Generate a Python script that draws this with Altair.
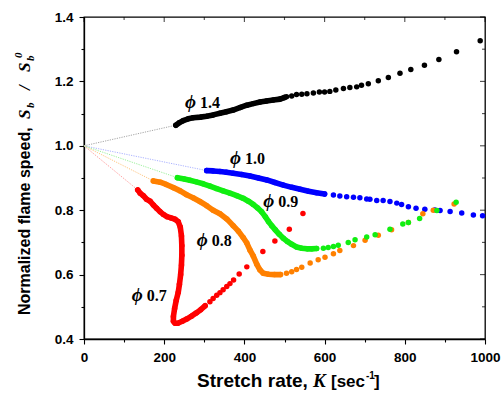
import altair as alt
import pandas as pd

# ---------------- data ----------------
series_names = ["1.4", "1.0", "0.7", "0.8", "0.9"]
series_colors = ["#000000", "#0000ff", "#ff0000", "#ff8000", "#11ee11"]
guide_colors = ["#9a9a9a", "#a0a8ff", "#ff9090", "#ffbe70", "#90ee90"]

# phi = 1.4
k14_dense = [229, 238, 247, 260, 272, 290, 306, 322, 339, 355, 372, 390, 406, 422, 439, 455, 472, 489, 500]
s14_dense = [1.064, 1.072, 1.078, 1.084, 1.087, 1.089, 1.092, 1.096, 1.101, 1.106, 1.111, 1.119, 1.126, 1.131,
             1.136, 1.139, 1.142, 1.145, 1.150]
k14_sparse = [505, 518, 530, 543, 556, 572, 587, 600, 613, 628, 647, 663, 680, 692, 709, 734, 759, 788, 815, 849,
              885, 929, 988]
s14_sparse = [1.152, 1.155, 1.159, 1.160, 1.162, 1.164, 1.167, 1.167, 1.169, 1.173, 1.178, 1.181, 1.183, 1.188,
              1.193, 1.202, 1.212, 1.225, 1.237, 1.250, 1.268, 1.292, 1.326]

# phi = 1.0
k10_dense = [306, 322, 339, 355, 372, 393, 414, 435, 456, 476, 497, 518, 539, 560, 580, 600]
s10_dense = [0.923, 0.922, 0.920, 0.918, 0.915, 0.911, 0.906, 0.900, 0.894, 0.886, 0.878, 0.871, 0.865, 0.859,
             0.854, 0.850]
k10_sparse = [622, 638, 655, 672, 688, 705, 713, 730, 746, 763, 780, 792, 809, 828, 850, 875, 888, 913, 942, 971, 994]
s10_sparse = [0.847, 0.844, 0.842, 0.840, 0.839, 0.835, 0.834, 0.830, 0.830, 0.827, 0.822, 0.818, 0.811, 0.806,
              0.803, 0.801, 0.799, 0.796, 0.791, 0.785, 0.783]

# phi = 0.7
k07_dense = [134, 140, 148, 156, 165, 173, 181, 190, 198, 207, 217, 227, 235, 240, 243, 244, 244, 243, 241, 238,
             235, 230, 226, 223, 223, 227, 234, 245, 256, 268, 280, 291, 302]
s07_dense = [0.863, 0.853, 0.845, 0.834, 0.828, 0.816, 0.806, 0.795, 0.787, 0.780, 0.776, 0.772, 0.764, 0.748,
             0.720, 0.690, 0.660, 0.630, 0.600, 0.570, 0.545, 0.520, 0.495, 0.470, 0.455, 0.449, 0.449, 0.455,
             0.462, 0.471, 0.481, 0.491, 0.503]
k07_sparse = [314, 322, 331, 339, 347, 356, 364, 373, 387, 406, 446, 476, 512, 546]
s07_sparse = [0.516, 0.526, 0.536, 0.544, 0.553, 0.563, 0.572, 0.583, 0.602, 0.624, 0.672, 0.704, 0.741, 0.790]

# phi = 0.8
k08_dense = [173, 190, 205, 223, 240, 256, 273, 289, 306, 322, 339, 356, 372, 385, 397, 406, 414, 422, 431, 439,
             447, 460, 475, 490]
s08_dense = [0.891, 0.887, 0.880, 0.870, 0.860, 0.848, 0.838, 0.827, 0.814, 0.800, 0.789, 0.773, 0.752, 0.735,
             0.715, 0.698, 0.676, 0.658, 0.632, 0.614, 0.604, 0.601, 0.600, 0.600]
k08_sparse = [505, 518, 530, 543, 564, 584, 601, 622, 638, 672, 701, 734, 767, 809, 845, 871, 923]
s08_sparse = [0.604, 0.609, 0.616, 0.623, 0.636, 0.646, 0.654, 0.665, 0.675, 0.690, 0.707, 0.722, 0.739, 0.762,
              0.789, 0.800, 0.819]

# phi = 0.9
k09_dense = [233, 250, 264, 280, 297, 314, 331, 347, 364, 381, 397, 410, 422, 433, 443, 452, 460, 468, 477, 487,
             497, 507, 518, 530, 543, 556, 568, 580]
s09_dense = [0.901, 0.897, 0.893, 0.888, 0.882, 0.875, 0.867, 0.860, 0.853, 0.845, 0.837, 0.828, 0.818, 0.807,
             0.795, 0.780, 0.765, 0.752, 0.739, 0.725, 0.713, 0.703, 0.694, 0.686, 0.682, 0.680, 0.680, 0.681]
k09_sparse = [597, 609, 622, 634, 659, 676, 705, 726, 763, 795, 809, 837, 880, 928]
s09_sparse = [0.682, 0.684, 0.687, 0.691, 0.700, 0.708, 0.717, 0.724, 0.741, 0.757, 0.762, 0.774, 0.799, 0.825]

# phi labels
label_text = ["1.4", "1.0", "0.9", "0.8", "0.7"]
label_k = [252, 364, 447, 281, 119]
label_s = [1.137, 0.961, 0.829, 0.708, 0.537]

x_major = [0, 200, 400, 600, 800, 1000]
x_minor = [100, 300, 500, 700, 900]
y_major = [0.4, 0.6, 0.8, 1.0, 1.2, 1.4]
y_minor = [0.5, 0.7, 0.9, 1.1, 1.3]

# ---------------- tables ----------------
dense = [(k14_dense, s14_dense), (k10_dense, s10_dense), (k07_dense, s07_dense), (k08_dense, s08_dense),
         (k09_dense, s09_dense)]
sparse = [(k14_sparse, s14_sparse), (k10_sparse, s10_sparse), (k07_sparse, s07_sparse), (k08_sparse, s08_sparse),
          (k09_sparse, s09_sparse)]

dense_rows, point_rows, guide_rows = [], [], []
for n, (name, col, gcol) in enumerate(zip(series_names, series_colors, guide_colors)):
    kd, sd = dense[n]
    ks, ss = sparse[n]
    for i, (k, s) in enumerate(zip(kd, sd)):
        dense_rows.append({"k": k, "s": s, "series": name, "col": col, "i": i})
        point_rows.append({"k": k, "s": s, "series": name, "col": col})
    for k, s in zip(ks, ss):
        point_rows.append({"k": k, "s": s, "series": name, "col": col})
    guide_rows.append({"k": 0, "s": 1.0, "series": name, "col": gcol, "i": 0})
    guide_rows.append({"k": kd[0], "s": sd[0], "series": name, "col": gcol, "i": 1})

dense_df = pd.DataFrame(dense_rows)
point_df = pd.DataFrame(point_rows)
guide_df = pd.DataFrame(guide_rows)
label_df = pd.DataFrame({"k": label_k, "s": label_s, "t": label_text, "phi": ["\u03d5"] * len(label_text)})

xs = alt.Scale(domain=[0, 1000], nice=False, zero=False)
ys = alt.Scale(domain=[0.4, 1.4], nice=False, zero=False)

label_style = dict(labelColor="#000000", labelFont="Liberation Sans", labelFontWeight=700, labelFontSize=13.5)

x_axis = alt.Axis(values=sorted(x_major + x_minor),
                  labelExpr="datum.value % 200 === 0 ? format(datum.value, 'd') : ''",
                  tickSize={"condition": {"test": "datum.value % 200 === 0", "value": 5}, "value": 3},
                  labelPadding=6, grid=False, title=None, labelFlush=False, **label_style)
y_axis = alt.Axis(values=sorted(y_major + y_minor),
                  labelExpr="round(datum.value*10) % 2 === 0 ? format(datum.value, '.1f') : ''",
                  tickSize={"condition": {"test": "round(datum.value*10) % 2 === 0", "value": 5}, "value": 3},
                  labelPadding=6, grid=False, title=None, labelFlush=False, **label_style)


def X(field="k"):
    return alt.X(f"{field}:Q", scale=xs, axis=x_axis)


def Y(field="s"):
    return alt.Y(f"{field}:Q", scale=ys, axis=y_axis)


guide = alt.Chart(guide_df).mark_line(strokeWidth=0.9, strokeDash=[1.2, 1.2]).encode(
    x=X(), y=Y(), color=alt.Color("col:N", scale=None), detail="series:N", order="i:Q")

bands = alt.Chart(dense_df).mark_line(strokeWidth=5.6, strokeCap="round", strokeJoin="round").encode(
    x=X(), y=Y(), color=alt.Color("col:N", scale=None), detail="series:N", order="i:Q")

points = alt.Chart(point_df).mark_circle(size=30, opacity=1).encode(
    x=X(), y=Y(), color=alt.Color("col:N", scale=None))

phi_marks = alt.Chart(label_df).mark_text(font="Liberation Serif", fontStyle="italic", fontWeight="bold",
                                          fontSize=19, align="left", baseline="middle", color="black").encode(
    x=X(), y=Y(), text="phi:N")
num_marks = alt.Chart(label_df).mark_text(font="Liberation Serif", fontWeight="bold", fontSize=16, align="left",
                                          baseline="middle", dx=15, dy=1, color="black").encode(
    x=X(), y=Y(), text="t:N")

# inward ticks on the top and right frame edges (major 5 px, minor 3 px)
top_major = alt.Chart(pd.DataFrame({"k": x_major})).mark_tick(size=5, thickness=1.1, color="black").encode(
    x=X(), y=alt.value(2.5))
top_minor = alt.Chart(pd.DataFrame({"k": x_minor})).mark_tick(size=3, thickness=1.1, color="black").encode(
    x=X(), y=alt.value(1.5))
right_major = alt.Chart(pd.DataFrame({"s": y_major})).mark_tick(size=5, thickness=1.1, color="black").encode(
    y=Y(), x=alt.value(398.5))
right_minor = alt.Chart(pd.DataFrame({"s": y_minor})).mark_tick(size=3, thickness=1.1, color="black").encode(
    y=Y(), x=alt.value(399.5))

one = pd.DataFrame({"a": [0]})


def txt(text, x, y, size, font="Liberation Sans", style="normal", angle=0):
    return alt.Chart(one).mark_text(text=text, font=font, fontStyle=style, fontWeight="bold", fontSize=size,
                                    align="left", baseline="alphabetic", angle=angle, color="black").encode(
        x=alt.value(x), y=alt.value(y))


SERIF = "Liberation Serif"
titles = [
    # x title
    txt("Stretch rate,", 113, 370, 19),
    txt("K", 229, 370, 19, SERIF, "italic"),
    txt("[sec", 247, 370, 17),
    txt("-1", 282, 362, 10),
    txt("]", 290, 370, 17),
    # y title (rotated, reading upwards)
    txt("Normalized flame speed,", -54, 298, 16, angle=270),
    txt("S", -54, 102, 17, SERIF, "italic", 270),
    txt("b", -50, 91, 11, SERIF, "italic", 270),
    txt("/", -54, 73, 17, SERIF, "italic", 270),
    txt("S", -54, 55, 17, SERIF, "italic", 270),
    txt("b", -50, 44, 11, SERIF, "italic", 270),
    txt("0", -62, 41, 11, SERIF, "italic", 270),
]

chart = alt.layer(guide, bands, points, phi_marks, num_marks, top_major, top_minor, right_major, right_minor,
                  *titles).properties(
    width=401, height=322,
    autosize=alt.AutoSizeParams(type="none"),
    padding={"left": 84, "top": 17, "right": 19, "bottom": 57},
    background="white",
).configure_view(stroke="black", strokeWidth=1.3).configure_axis(
    domainColor="black", domainWidth=1.3, tickColor="black", tickWidth=1.1, **label_style
)

chart.save("out.html", embed_options={"renderer": "svg", "actions": False})
